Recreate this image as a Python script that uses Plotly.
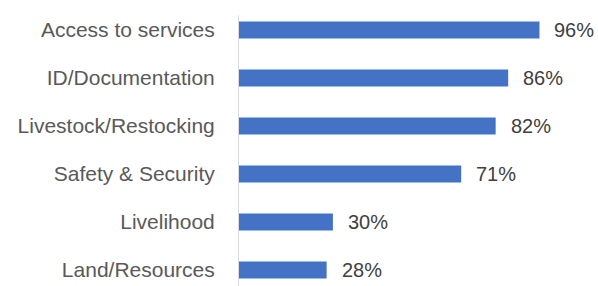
import plotly.graph_objects as go

categories = ["Access to services", "ID/Documentation", "Livestock/Restocking",
              "Safety & Security", "Livelihood", "Land/Resources"]
values = [96, 86, 82, 71, 30, 28]
value_labels = ["96%", "86%", "82%", "71%", "30%", "28%"]

fig = go.Figure()
fig.add_trace(go.Bar(
    y=categories, x=values, orientation="h",
    marker=dict(color="#4472C4", line=dict(width=0)),
    width=0.35, hoverinfo="skip",
))
for c, v, t in zip(categories, values, value_labels):
    fig.add_annotation(x=v, y=c, text=t, showarrow=False, xanchor="left",
                       xshift=13, font=dict(family="Liberation Sans, Arial", size=20, color="#404040"))

fig.update_layout(
    width=598, height=286,
    margin=dict(l=239, r=0, t=15, b=0),
    plot_bgcolor="white", paper_bgcolor="white",
    showlegend=False,
    font=dict(family="Liberation Sans, Arial", size=21, color="#595959"),
    xaxis=dict(range=[0, 114.7], visible=False, fixedrange=True, automargin=False),
    yaxis=dict(categoryorder="array", categoryarray=categories,
               range=[5.333, -0.3125], showline=True, linecolor="#d9d9d9",
               linewidth=1, showgrid=False, zeroline=False, ticks="",
               ticklabelstandoff=19, fixedrange=True, automargin=False),
)
fig.write_html("out.html", config={"displayModeBar": False},
               post_script="document.body.style.margin='0';document.body.style.overflow='hidden';")
